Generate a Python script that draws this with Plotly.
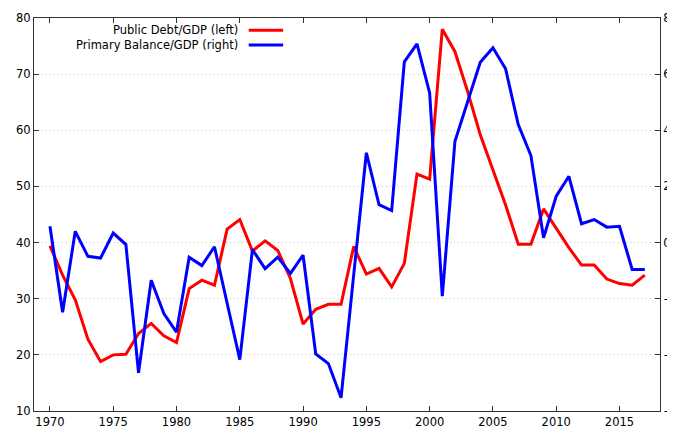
import plotly.graph_objects as go

years = list(range(1970, 2018))
public_debt = [39.4, 34.2, 29.8, 22.8, 18.8, 20.0, 20.1, 23.8, 25.6, 23.4,
               22.2, 31.8, 33.3, 32.4, 42.4, 44.1, 38.5, 40.3, 38.6, 33.6,
               25.5, 28.1, 29.0, 29.0, 39.3, 34.4, 35.4, 32.1, 36.3, 52.2,
               51.3, 78.0, 74.0, 66.9, 59.2, 52.9, 46.7, 39.7, 39.7, 46.0,
               42.5, 39.1, 36.0, 36.0, 33.5, 32.7, 32.4, 34.2]
primary_balance = [0.58, -2.48, 0.40, -0.49, -0.55, 0.34, -0.07, -4.64, -1.34, -2.53,
                   -3.19, -0.52, -0.82, -0.15, -2.16, -4.17, -0.25, -0.93, -0.52, -1.10,
                   -0.45, -3.97, -4.31, -5.53, -1.15, 3.20, 1.35, 1.14, 6.44, 7.08,
                   5.33, -1.91, 3.61, 5.03, 6.42, 6.94, 6.19, 4.20, 3.10, 0.17,
                   1.65, 2.36, 0.67, 0.82, 0.55, 0.58, -0.96, -0.96]
names = ["Public Debt/GDP (left)", "Primary Balance/GDP (right)"]
colors = ["#ff0000", "#0000ff"]
x_ticks = list(range(1970, 2016, 5))
left_ticks = list(range(10, 81, 10))
right_ticks = list(range(-6, 9, 2))

font = dict(family="DejaVu Sans", size=11.5, color="#000000")

fig = go.Figure()
fig.add_trace(go.Scatter(x=years, y=public_debt, mode="lines", name=names[0],
                         line=dict(color=colors[0], width=3), yaxis="y"))
fig.add_trace(go.Scatter(x=years, y=primary_balance, mode="lines", name=names[1],
                         line=dict(color=colors[1], width=3), yaxis="y2"))

axis_common = dict(showline=True, linecolor="#333333", linewidth=1,
                   ticks="inside", ticklen=5, tickcolor="#333333", zeroline=False,
                   tickfont=font, automargin=False)

fig.update_layout(
    width=667, height=424,
    margin=dict(l=26, r=15, t=10, b=21),
    paper_bgcolor="white", plot_bgcolor="white",
    showlegend=False,
    font=font,
    xaxis=dict(range=[1968.74, 2018.2], tickvals=x_ticks, showgrid=False,
               mirror="ticks", **axis_common),
    yaxis=dict(range=[10, 80], tickvals=left_ticks, showgrid=True,
               gridcolor="#c4c4c4", griddash="1px,3px", gridwidth=1,
               mirror=False, **axis_common),
    yaxis2=dict(range=[-6, 8], tickvals=right_ticks, overlaying="y", side="right",
                showgrid=False, **axis_common),
)

# gnuplot-style key: text right-aligned, sample line to the right
key_y = [0.969, 0.931]
for i in range(2):
    fig.add_annotation(x=0.329, y=key_y[i], xref="paper", yref="paper",
                       text=names[i], showarrow=False, xanchor="right",
                       yanchor="middle", font=font)
    fig.add_shape(type="line", xref="paper", yref="paper",
                  x0=0.343, x1=0.398, y0=key_y[i], y1=key_y[i],
                  line=dict(color=colors[i], width=3))

fig.write_html("out.html")
